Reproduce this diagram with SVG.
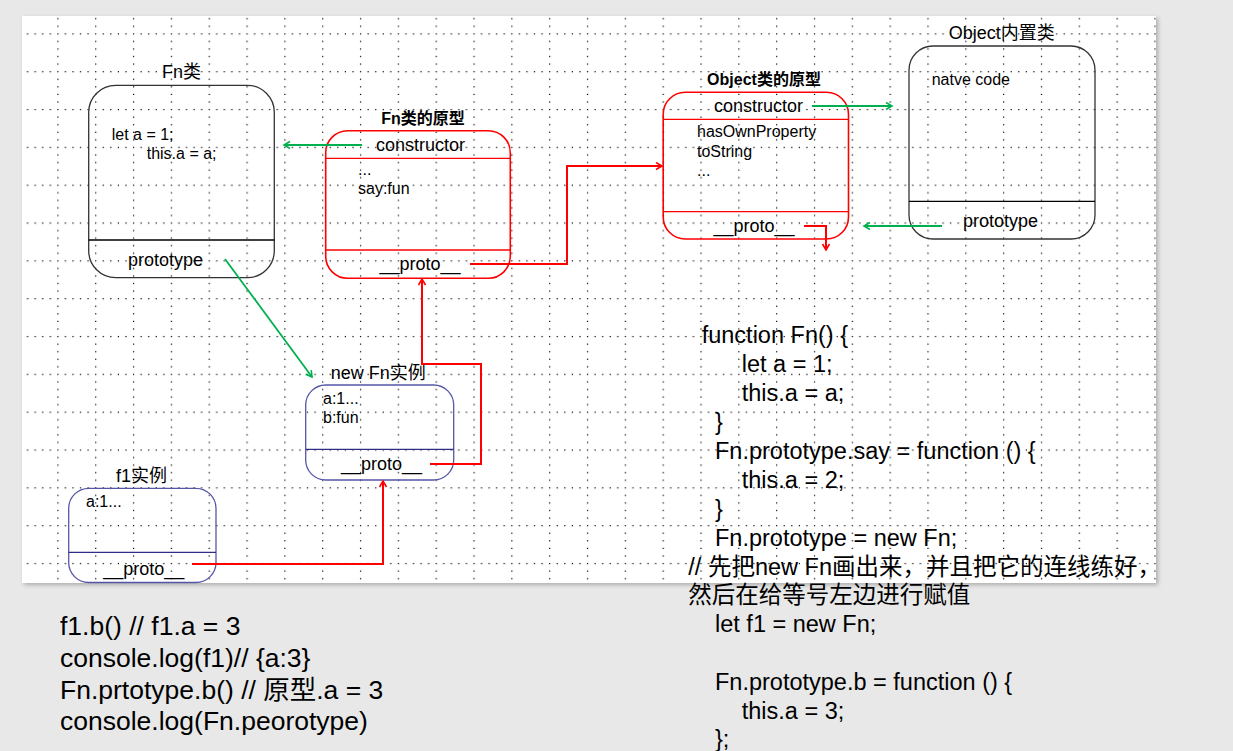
<svg xmlns="http://www.w3.org/2000/svg" width="1233" height="751" viewBox="0 0 1233 751">
<defs>
<pattern id="grid" patternUnits="userSpaceOnUse" x="19.47" y="-4.53" width="37.83" height="37.83">
<g fill="#000">
<rect x="0" y="0" width="1.2" height="1.2"/><rect x="7.57" y="0" width="1.2" height="1.2"/><rect x="15.13" y="0" width="1.2" height="1.2"/><rect x="22.7" y="0" width="1.2" height="1.2"/><rect x="30.26" y="0" width="1.2" height="1.2"/>
<rect x="0" y="7.57" width="1.2" height="1.2"/><rect x="0" y="15.13" width="1.2" height="1.2"/><rect x="0" y="22.7" width="1.2" height="1.2"/><rect x="0" y="30.26" width="1.2" height="1.2"/>
</g>
</pattern>
<filter id="shadow" x="-5%" y="-5%" width="110%" height="110%">
<feDropShadow dx="2" dy="2" stdDeviation="2" flood-color="#000" flood-opacity="0.25"/>
</filter>
<marker id="ag" markerUnits="userSpaceOnUse" markerWidth="10" markerHeight="10" refX="7" refY="4" orient="auto">
<path d="M1,0.5 L7,4 L1,7.5" fill="none" stroke="#00b050" stroke-width="1.6"/>
</marker>
<marker id="ar" markerUnits="userSpaceOnUse" markerWidth="10" markerHeight="10" refX="7" refY="4" orient="auto">
<path d="M1,0.5 L7,4 L1,7.5" fill="none" stroke="#ff0000" stroke-width="1.6"/>
</marker>
<style>
text{font-family:"Liberation Sans","Noto Sans CJK SC",sans-serif;fill:#000}
.t{font-size:18px}
.tb{font-size:16px;font-weight:bold}
.s{font-size:16px}
.m{font-size:18px}
.code{font-size:23.5px}
.code2{font-size:26.5px}
.bk{fill:none;stroke:#333;stroke-width:1.3}
.bkd{stroke:#000;stroke-width:1.3}
.rd{fill:none;stroke:#ff0000;stroke-width:1.6}
.rdd{stroke:#ff0000;stroke-width:1.3}
.nv{fill:none;stroke:#5656a8;stroke-width:1.3}
.nvd{stroke:#2e2e86;stroke-width:1.3}
.g{fill:none;stroke:#00b050;stroke-width:1.8}
.r{fill:none;stroke:#ff0000;stroke-width:2}
</style>
</defs>
<rect x="0" y="0" width="1233" height="751" fill="#e8e8e8"/>
<rect x="22" y="16" width="1134" height="567" fill="#fff" filter="url(#shadow)"/>
<rect x="22" y="16" width="1134" height="567" fill="url(#grid)"/>

<g id="fn-class">
<text class="t" x="181.5" y="78" text-anchor="middle">Fn类</text>
<rect class="bk" x="88.7" y="85.3" width="185.6" height="192.4" rx="27"/>
<line class="bkd" x1="88.7" y1="240" x2="274.3" y2="240"/>
<text class="s" x="111.7" y="140">let a = 1;</text>
<text class="s" x="146.7" y="159">this.a = a;</text>
<text class="m" x="128" y="266">prototype</text>
</g>

<g id="fn-prototype">
<text class="tb" x="423" y="124" text-anchor="middle">Fn类的原型</text>
<rect class="rd" x="325.7" y="130.7" width="184.6" height="147.6" rx="22"/>
<line class="rdd" x1="325.7" y1="158.3" x2="510.3" y2="158.3"/>
<line class="rdd" x1="325.7" y1="250" x2="510.3" y2="250"/>
<text class="m" x="376" y="151">constructor</text>
<text class="s" x="358" y="175">...</text>
<text class="s" x="358" y="194">say:fun</text>
<text class="m" x="379.5" y="270">__proto__</text>
</g>

<g id="object-prototype">
<text class="tb" x="764" y="85" text-anchor="middle">Object类的原型</text>
<rect class="rd" x="663.2" y="92.3" width="185.3" height="146.7" rx="22"/>
<line class="rdd" x1="663.2" y1="119.3" x2="848.5" y2="119.3"/>
<line class="rdd" x1="663.2" y1="211.7" x2="848.5" y2="211.7"/>
<text class="m" x="714" y="111.5">constructor</text>
<text class="s" x="697" y="136.5">hasOwnProperty</text>
<text class="s" x="697" y="156.5">toString</text>
<text class="s" x="697" y="176">...</text>
<text class="m" x="713.5" y="231.5">__proto__</text>
</g>

<g id="object-class">
<text class="t" x="1001.7" y="39" text-anchor="middle">Object内置类</text>
<rect class="bk" x="909" y="46" width="186" height="193" rx="24"/>
<line class="bkd" x1="909" y1="201.3" x2="1095" y2="201.3"/>
<text class="s" x="931.7" y="85">natve code</text>
<text class="m" x="963" y="227">prototype</text>
</g>

<g id="new-fn-instance">
<text class="t" x="330.7" y="379">new Fn实例</text>
<rect class="nv" x="305.7" y="385" width="148" height="95" rx="20"/>
<line class="nvd" x1="305.7" y1="449.3" x2="453.7" y2="449.3"/>
<text class="s" x="323" y="404">a:1...</text>
<text class="s" x="323" y="422.7">b:fun</text>
<text class="m" x="341" y="470">__proto__</text>
</g>

<g id="f1-instance">
<text class="t" x="116" y="481.7">f1实例</text>
<rect class="nv" x="68.7" y="488.3" width="147.3" height="94.2" rx="20"/>
<line class="nvd" x1="68.7" y1="552.3" x2="216" y2="552.3"/>
<text class="s" x="86" y="506.7">a:1...</text>
<text class="m" x="103.3" y="575">__proto__</text>
</g>

<g id="connectors">
<line class="g" x1="362" y1="145" x2="284" y2="145" marker-end="url(#ag)"/>
<line class="g" x1="225" y1="259" x2="312" y2="377" marker-end="url(#ag)"/>
<line class="g" x1="812" y1="106" x2="892" y2="106" marker-end="url(#ag)"/>
<line class="g" x1="942" y1="226" x2="864" y2="226" marker-end="url(#ag)"/>
<polyline class="r" points="470,264 567,264 567,166 662,166" marker-end="url(#ar)"/>
<polyline class="r" points="804,226 826,226 826,250" marker-end="url(#ar)"/>
<polyline class="r" points="430,464 481,464 481,364 422,364 422,279" marker-end="url(#ar)"/>
<polyline class="r" points="192,564 383,564 383,481" marker-end="url(#ar)"/>
</g>

<g id="code-right">
<text class="code" x="701.7" y="343">function Fn() {</text>
<text class="code" x="741.7" y="372">let a = 1;</text>
<text class="code" x="741.7" y="401">this.a = a;</text>
<text class="code" x="715" y="430">}</text>
<text class="code" x="715" y="459">Fn.prototype.say = function () {</text>
<text class="code" x="741.7" y="488">this.a = 2;</text>
<text class="code" x="715" y="517">}</text>
<text class="code" x="715" y="546">Fn.prototype = new Fn;</text>
<text class="code" x="688.3" y="575">// 先把new Fn画出来，并且把它的连线练好，</text>
<text class="code" x="688.3" y="603">然后在给等号左边进行赋值</text>
<text class="code" x="715" y="632">let f1 = new Fn;</text>
<text class="code" x="715" y="690">Fn.prototype.b = function () {</text>
<text class="code" x="741.7" y="718.5">this.a = 3;</text>
<text class="code" x="715" y="747">};</text>
</g>

<g id="code-left">
<text class="code2" x="60" y="635">f1.b() // f1.a = 3</text>
<text class="code2" x="60" y="667">console.log(f1)// {a:3}</text>
<text class="code2" x="60" y="699">Fn.prtotype.b() // 原型.a = 3</text>
<text class="code2" x="60" y="730">console.log(Fn.peorotype)</text>
</g>
</svg>
